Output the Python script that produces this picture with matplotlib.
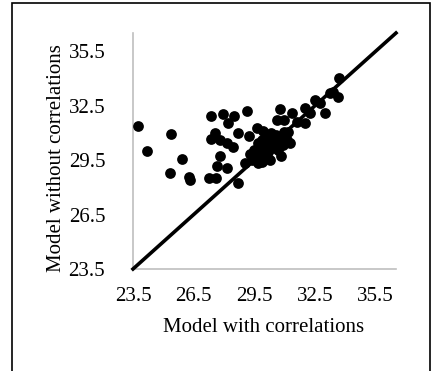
import matplotlib
matplotlib.use("Agg")
import matplotlib.pyplot as plt
from matplotlib.patches import Rectangle

plt.rcParams['font.family'] = ['Liberation Serif', 'DejaVu Serif']

# model with correlations (x) vs model without correlations (y)
with_corr = [
    23.73, 24.18, 25.38, 25.34, 25.92, 26.25, 26.32, 27.34, 27.93, 28.51,
    28.20, 29.14, 27.57, 27.37, 27.80, 28.13, 28.46, 28.68, 29.25, 27.82,
    27.65, 28.13, 27.26, 27.60, 28.68, 29.04, 29.28, 29.61, 29.94, 30.77,
    30.60, 30.98, 30.82, 31.37, 31.18, 31.26, 31.59, 32.00, 32.00, 32.25,
    32.50, 32.74, 32.99, 33.24, 33.40, 33.62, 33.68,
    29.38, 29.58, 29.68, 29.88, 30.03, 29.78, 29.98, 30.17, 30.27, 30.37,
    30.52, 30.17, 29.88, 29.68, 30.67, 30.57, 30.77, 30.96, 30.32, 30.07,
    29.48, 30.91, 31.11,
]
without_corr = [
    31.40, 30.02, 30.92, 28.77, 29.58, 28.59, 28.40, 31.95, 32.04, 31.93,
    31.53, 32.21, 30.98, 30.65, 30.61, 30.43, 30.24, 31.01, 30.83, 29.73,
    29.19, 29.05, 28.50, 28.50, 28.22, 29.32, 29.84, 31.29, 31.10, 32.30,
    31.71, 31.71, 29.73, 32.08, 31.06, 30.43, 31.62, 32.35, 31.56, 32.08,
    32.81, 32.63, 32.08, 33.18, 33.27, 32.99, 34.01,
    29.51, 29.73, 29.34, 29.40, 29.62, 30.06, 30.28, 29.95, 29.51, 30.17,
    30.50, 30.61, 30.61, 30.44, 30.06, 30.88, 30.72, 31.05, 30.99, 30.88,
    30.06, 30.33, 30.61,
]
ticks = [23.5, 26.5, 29.5, 32.5, 35.5]
lo, hi = 23.5, 36.5

fig = plt.figure(figsize=(4.34, 3.71), dpi=100)
ax = fig.add_axes([133 / 434, 1 - 269 / 371, 263 / 434, 236 / 371])

ax.scatter(with_corr, without_corr, s=60, color='black', zorder=3, linewidths=0)
ax.plot([lo, hi], [lo, hi], color='black', linewidth=2.6, zorder=4, clip_on=False)

ax.set_xlim(lo, hi)
ax.set_ylim(lo, hi)
ax.set_xticks(ticks)
ax.set_yticks(ticks)
ax.set_xticklabels([f"{t:.1f}" for t in ticks])
ax.set_yticklabels([f"{t:.1f}" for t in ticks])
ax.tick_params(length=0, labelsize=15, colors='black')
ax.tick_params(axis='x', pad=13)
ax.tick_params(axis='y', pad=20)
for side in ['top', 'right']:
    ax.spines[side].set_visible(False)
for side in ['left', 'bottom']:
    ax.spines[side].set_color('#BFBFBF')
    ax.spines[side].set_linewidth(1.2)

fig.text(263.5 / 434, 1 - 328 / 371, "Model with correlations", ha='center', va='center', fontsize=15)
fig.text(57 / 434, 1 - 158 / 371, "Model without correlations", ha='center', va='center',
         rotation=90, fontsize=15)

# outer frame
fig.patches.append(Rectangle((12 / 434, -0.05), 418 / 434, 1.05 - 3 / 371, transform=fig.transFigure,
                             fill=False, edgecolor='black', linewidth=1.2))

plt.savefig("out.png", dpi=100)
